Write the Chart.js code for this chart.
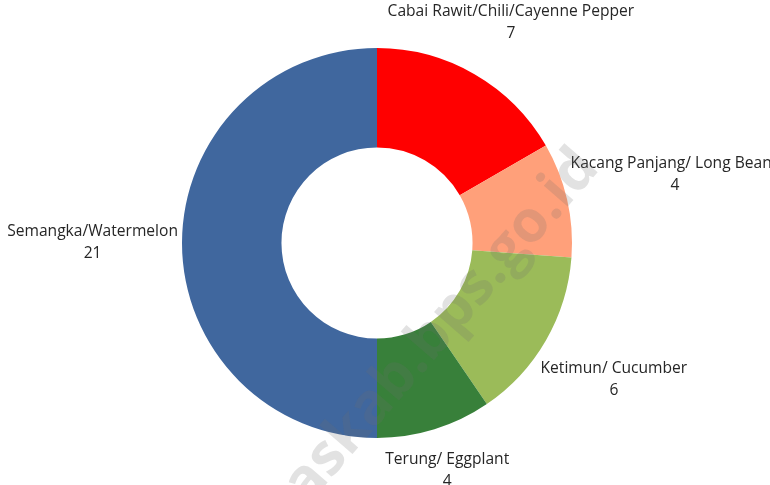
<!DOCTYPE html>
<html>
<head>
<meta charset="utf-8">
<script src="https://cdn.jsdelivr.net/npm/chart.js@4.4.1/dist/chart.umd.min.js"></script>
<style>
  html, body { margin: 0; padding: 0; background: #fff; }
  #wrap { width: 770px; height: 485px; }
</style>
</head>
<body>
<div id="wrap"><canvas id="chart" width="770" height="485"></canvas></div>
<script>
// ─── Data ─────────────────────────────────────────────────────────
const LABELS = ['Cabai Rawit/Chili/Cayenne Pepper', 'Kacang Panjang/ Long Beans', 'Ketimun/ Cucumber', 'Terung/ Eggplant', 'Semangka/Watermelon'];
const VALUES = [7, 4, 6, 4, 21];
const COLORS = ['#ff0000', '#ffa07a', '#9bbb59', '#38803a', '#40679e'];

const FONT = '15.6px "Open Sans", "Noto Sans", sans-serif';
const LH   = 22;

// outside labels: name + value, pushed out along the slice's mid angle
const outLabels = {
  id: 'outLabels',
  afterDatasetsDraw(chart) {
    const ctx = chart.ctx;
    const meta = chart.getDatasetMeta(0);
    ctx.save();
    ctx.font = FONT;
    ctx.fillStyle = '#262626';
    ctx.textAlign = 'center';
    ctx.textBaseline = 'middle';
    meta.data.forEach((arc, i) => {
      const { x, y, startAngle, endAngle, outerRadius } = arc.getProps(['x', 'y', 'startAngle', 'endAngle', 'outerRadius'], true);
      const a = (startAngle + endAngle) / 2;
      const val = String(VALUES[i]);
      const w = Math.max(ctx.measureText(LABELS[i]).width, ctx.measureText(val).width);
      const h = LH * 2;
      const ext = Math.abs(w / 2 * Math.cos(a)) + Math.abs(h / 2 * Math.sin(a));
      const d = outerRadius + 4 + ext;
      let cx = x + d * Math.cos(a), cy = y + d * Math.sin(a);
      if (cy - h / 2 < 1) { cy = h / 2 + 1; cx -= 6; }
      ctx.fillText(LABELS[i], cx, cy - LH / 2);
      ctx.fillText(val, cx, cy + LH / 2);
    });
    ctx.restore();
  }
};

// faint site watermark over the chart
const watermark = {
  id: 'watermark',
  afterDraw(chart) {
    const ctx = chart.ctx;
    ctx.save();
    ctx.translate(588, 158);
    ctx.rotate(-49 * Math.PI / 180);
    ctx.font = 'bold 58px "Open Sans", "Noto Sans", sans-serif';
    ctx.fillStyle = 'rgba(110,110,110,0.2)';
    ctx.textAlign = 'right';
    ctx.textBaseline = 'middle';
    ctx.fillText('askab.bps.go.id', 0, 0);
    ctx.restore();
  }
};

new Chart(document.getElementById('chart').getContext('2d'), {
  type: 'doughnut',
  data: {
    labels: LABELS,
    datasets: [{ data: VALUES, backgroundColor: COLORS, borderWidth: 0, hoverOffset: 0 }],
  },
  options: {
    responsive: false, animation: false, cutout: '49%',
    layout: { padding: { top: 48, bottom: 47, left: 0, right: 16 } },
    plugins: { legend: { display: false }, tooltip: { enabled: false } },
  },
  plugins: [outLabels, watermark],
});
</script>
</body>
</html>
